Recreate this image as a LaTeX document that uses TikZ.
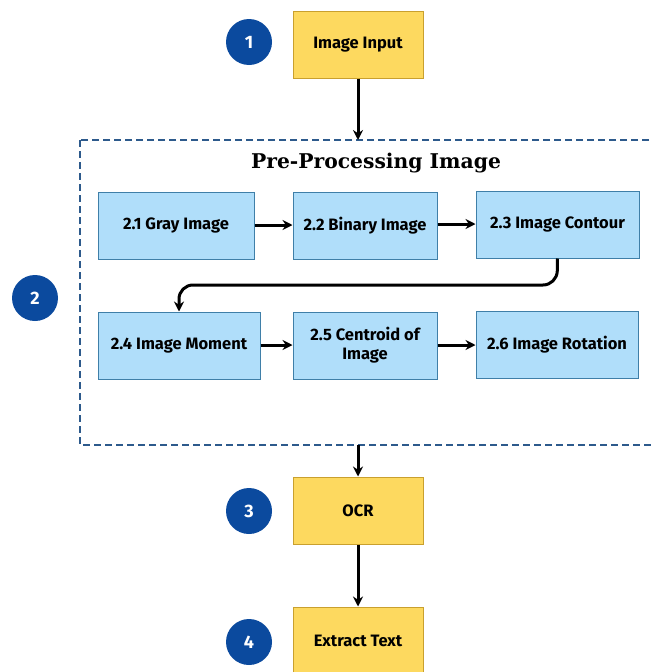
\documentclass[tikz,border=0pt]{standalone}
\usepackage{fontspec}
\setmainfont{Fira Sans}
\newfontfamily\titlefont{DejaVu Serif}
\usetikzlibrary{arrows.meta}
\definecolor{boxblue}{HTML}{B0DEFA}
\definecolor{boxblueline}{HTML}{3F7FA8}
\definecolor{boxyellow}{HTML}{FDD95F}
\definecolor{boxyellowline}{HTML}{C9A02E}
\definecolor{circblue}{HTML}{0B4A9E}
\definecolor{dashblue}{HTML}{2D5A8C}
\tikzset{
  bluebox/.style={draw=boxblueline, fill=boxblue, line width=1pt, minimum width=156pt, minimum height=67pt, align=center, font=\bfseries\fontsize{16.5}{19}\selectfont, inner sep=2pt},
  yellowbox/.style={draw=boxyellowline, fill=boxyellow, line width=1pt, minimum width=130pt, minimum height=67pt, align=center, font=\bfseries\fontsize{16.5}{19}\selectfont},
  numcirc/.style={circle, fill=circblue, minimum size=46pt, inner sep=0pt, text=white, font=\bfseries\fontsize{18}{20}\selectfont},
  conn/.style={draw=black, line width=3pt, -{Stealth[length=10pt,width=10pt]}},
  group/.style={draw=dashblue, line width=2.4pt, dash pattern=on 7pt off 4pt}
}
\begin{document}
\begin{tikzpicture}[x=1pt,y=-1pt]
\useasboundingbox (0,0) rectangle (652,672);
\clip (0,0) rectangle (652,672);
% group
\draw[group] (80,140) rectangle (670,445);
\node[font=\titlefont\bfseries\fontsize{20.3}{24}\selectfont] (title) at (376,163) {Pre-Processing Image};
% circles
\node[numcirc] (c1) at (249,42) {1};
\node[numcirc] (c2) at (35,298) {2};
\node[numcirc] (c3) at (249,511) {3};
\node[numcirc] (c4) at (249,642) {4};
% yellow boxes
\node[yellowbox] (input) at (358,44.5) {Image Input};
\node[yellowbox] (ocr) at (358,510.5) {OCR};
\node[yellowbox] (extract) at (358,640.5) {Extract Text};
% blue boxes
\node[bluebox] (b1) at (176,225.5) {2.1 Gray Image};
\node[bluebox, minimum width=144pt] (b2) at (365,225.5) {2.2 Binary Image};
\node[bluebox, minimum width=163pt] (b3) at (557.5,224.5) {2.3 Image Contour};
\node[bluebox, minimum width=162pt] (b4) at (179,345.5) {2.4 Image Moment};
\node[bluebox, minimum width=144pt] (b5) at (365,345.5) {2.5 Centroid of\\Image};
\node[bluebox, minimum width=162pt] (b6) at (557,344.5) {2.6 Image Rotation};
% connectors
\coordinate (gtop) at (358,140);
\coordinate (gbot) at (358,445);
\draw[conn] (input) -- (gtop);
\draw[conn] (b1.east |- 0,225) -- (b2.west |- 0,225);
\draw[conn] (b2.east |- 0,224) -- (b3.west |- 0,224);
\draw[conn, rounded corners=14pt] (b3.south) -- (557,285) -- (179,285) -- (b4.north);
\draw[conn] (b4.east |- 0,345) -- (b5.west |- 0,345);
\draw[conn] (b5.east |- 0,345) -- (b6.west |- 0,345);
\draw[conn] (gbot) -- (ocr);
\draw[conn] (ocr) -- (extract);
\end{tikzpicture}
\end{document}
